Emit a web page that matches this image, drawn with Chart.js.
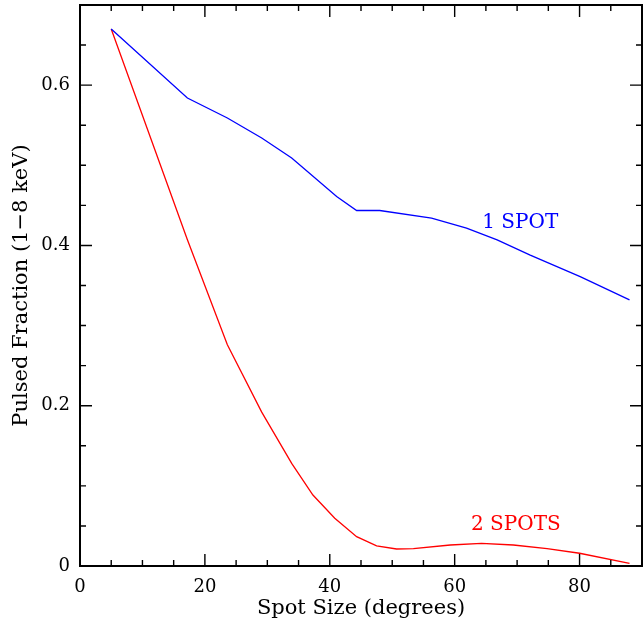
<!DOCTYPE html>
<html>
<head>
<meta charset="utf-8">
<script src="https://cdn.jsdelivr.net/npm/chart.js@4.4.1/dist/chart.umd.min.js"></script>
<style>
  html, body { margin: 0; padding: 0; background: #fff; }
</style>
</head>
<body>
<canvas id="myChart" width="643" height="628"></canvas>
<script>
// spot size (degrees) vs pulsed fraction
const oneSpotX = [5, 17.2, 23.6, 29.1, 33.9, 41.1, 44.3, 48.0, 56.3, 61.9, 66.8, 72.1, 80.1, 88.0];
const oneSpotY = [0.670, 0.584, 0.559, 0.534, 0.509, 0.461, 0.4436, 0.4436, 0.434, 0.4216, 0.407, 0.388, 0.361, 0.332];

const twoSpotX = [5, 17.2, 23.6, 29.1, 33.9, 37.3, 40.8, 44.3, 47.5, 50.7, 53.4, 59.3, 64.3, 69.4, 74.8, 80.0, 88.0];
const twoSpotY = [0.670, 0.407, 0.276, 0.192, 0.128, 0.0886, 0.0596, 0.0366, 0.025, 0.0212, 0.0216, 0.0262, 0.0283, 0.0262, 0.0216, 0.0159, 0.0034];

const xTicks = [0, 20, 40, 60, 80];
const yTicks = [0, 0.2, 0.4, 0.6];
const yTickLabels = ['0', '0.2', '0.4', '0.6'];

const serif = "'DejaVu Serif', 'Liberation Serif', serif";

function pts(xs, ys) {
    return xs.map((x, i) => ({ x: x, y: ys[i] }));
}

// curve labels, placed in data units
const notes = [
    { text: '1 SPOT', x: 70.5, y: 0.428, color: '#0000ff' },
    { text: '2 SPOTS', x: 69.8, y: 0.052, color: '#ff0000' }
];

/* frame with inward ticks on all four sides, like the original plot */
const frameTicks = {
    id: 'frameTicks',
    afterDraw(chart) {
        const ctx = chart.ctx;
        const a = chart.chartArea;
        const xs = chart.scales.x, ys = chart.scales.y;
        ctx.save();
        ctx.strokeStyle = '#000';
        ctx.lineWidth = 1.4;
        ctx.beginPath();
        for (let v = 0; v <= 90; v += 5) {
            const p = xs.getPixelForValue(v);
            const len = (v % 20 === 0) ? 12 : 6;
            ctx.moveTo(p, a.bottom); ctx.lineTo(p, a.bottom - len);
            ctx.moveTo(p, a.top); ctx.lineTo(p, a.top + len);
        }
        for (let k = 0; k <= 14; k++) {
            const v = k * 0.05;
            const p = ys.getPixelForValue(v);
            const len = (k % 4 === 0) ? 12 : 6;
            ctx.moveTo(a.left, p); ctx.lineTo(a.left + len, p);
            ctx.moveTo(a.right, p); ctx.lineTo(a.right - len, p);
        }
        ctx.stroke();
        ctx.lineWidth = 2;
        ctx.strokeRect(a.left, a.top, a.right - a.left, a.bottom - a.top);

        ctx.font = '20px ' + serif;
        ctx.textAlign = 'center';
        ctx.textBaseline = 'middle';
        notes.forEach((n) => {
            ctx.fillStyle = n.color;
            ctx.fillText(n.text, xs.getPixelForValue(n.x), ys.getPixelForValue(n.y));
        });
        ctx.restore();
    }
};

let ctx = document.getElementById('myChart');

let chart = new Chart(ctx, {
    type: 'line',
    data: {
        datasets: [{
            label: '1 SPOT',
            data: pts(oneSpotX, oneSpotY),
            borderColor: '#0000ff',
            borderWidth: 1.3,
            pointRadius: 0,
            tension: 0,
            fill: false
        }, {
            label: '2 SPOTS',
            data: pts(twoSpotX, twoSpotY),
            borderColor: '#ff0000',
            borderWidth: 1.3,
            pointRadius: 0,
            tension: 0,
            fill: false
        }]
    },
    options: {
        responsive: false,
        animation: false,
        devicePixelRatio: 1,
        layout: { padding: { top: 5, right: 1, left: 0, bottom: 0 } },
        plugins: {
            legend: { display: false },
            tooltip: { enabled: false }
        },
        scales: {
            x: {
                type: 'linear',
                min: 0,
                max: 90,
                grid: { display: false, drawTicks: false },
                border: { display: false },
                afterBuildTicks: (scale) => { scale.ticks = xTicks.map(v => ({ value: v })); },
                afterFit: (scale) => {
                    scale.height = 62;
                    scale.paddingLeft = 0;
                    scale.paddingRight = 0;
                },
                ticks: {
                    padding: 11,
                    color: '#000',
                    font: { family: serif, size: 18 },
                    maxRotation: 0,
                    callback: (v) => String(v)
                },
                title: {
                    display: true,
                    text: 'Spot Size (degrees)',
                    color: '#000',
                    font: { family: serif, size: 21 },
                    padding: { top: 0, bottom: 7 }
                }
            },
            y: {
                type: 'linear',
                min: 0,
                max: 0.7,
                grid: { display: false, drawTicks: false },
                border: { display: false },
                afterBuildTicks: (scale) => { scale.ticks = yTicks.map(v => ({ value: v })); },
                afterFit: (scale) => {
                    scale.width = 80;
                    scale.paddingTop = 0;
                    scale.paddingBottom = 0;
                },
                ticks: {
                    padding: 10,
                    color: '#000',
                    font: { family: serif, size: 18 },
                    callback: (v) => {
                        const i = yTicks.findIndex(t => Math.abs(t - v) < 1e-9);
                        return i >= 0 ? yTickLabels[i] : '';
                    }
                },
                title: {
                    display: true,
                    text: 'Pulsed Fraction (1\u22128 keV)',
                    color: '#000',
                    font: { family: serif, size: 21 },
                    padding: { top: 9, bottom: 0 }
                }
            }
        }
    },
    plugins: [frameTicks]
});
</script>
</body>
</html>
